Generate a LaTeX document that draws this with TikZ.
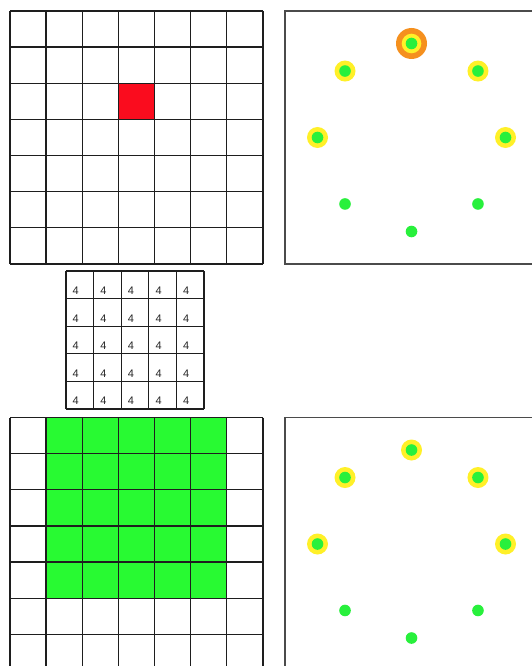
\documentclass[tikz,border=0pt]{standalone}
\usepackage{fontspec}
\setsansfont{Liberation Sans}
\definecolor{cellred}{HTML}{FA0C1E}
\definecolor{cellgreen}{HTML}{28FA32}
\definecolor{dotgreen}{HTML}{28F03C}
\definecolor{ringyellow}{HTML}{FFF028}
\definecolor{ringorange}{HTML}{F5901E}
\definecolor{linegray}{HTML}{1E1E1E}
\tikzset{
  gridline/.style={draw=linegray, line width=1.3pt},
  panelbox/.style={draw=linegray!80, line width=1.1pt},
  dotg/.style={fill=dotgreen},
  ringy/.style={fill=ringyellow},
  ringo/.style={fill=ringorange},
  numlabel/.style={font=\sffamily\fontsize{11}{11}\selectfont, text=black!85, inner sep=0pt, anchor=base west}
}
\begin{document}
\begin{tikzpicture}[x=1pt,y=-1pt]
\useasboundingbox (0,0) rectangle (531,666);
\fill[white] (0,0) rectangle (531,666);
\def\cs{36.14}
% ---- top-left grid ----
\fill[cellred] (10+3*\cs,11+2*\cs) rectangle ++(\cs,\cs);
\foreach \i in {0,...,7}{
  \draw[gridline] (10+\i*\cs,11) -- (10+\i*\cs,264);
  \draw[gridline] (10,11+\i*\cs) -- (263,11+\i*\cs);
}
% ---- bottom-left grid ----
\fill[cellgreen] (10+\cs,417.5) rectangle ++(5*\cs,5*\cs);
\foreach \i in {0,...,7}{
  \draw[gridline] (10+\i*\cs,417.5) -- (10+\i*\cs,670.5);
  \draw[gridline] (10,417.5+\i*\cs) -- (263,417.5+\i*\cs);
}
% ---- small middle grid ----
\def\ss{27.6}
\foreach \i in {0,...,5}{
  \draw[gridline, line width=1.1pt] (66+\i*\ss,271) -- (66+\i*\ss,409);
  \draw[gridline, line width=1.1pt] (66,271+\i*\ss) -- (204,271+\i*\ss);
}
\foreach \r in {0,...,4}{
  \foreach \c in {0,...,4}{
    \node[numlabel] (n\r\c) at (66+\c*\ss+6.5, 271+\r*\ss+23.5) {4};
  }
}
% ---- top-right panel ----
\draw[panelbox] (285,11) rectangle (538,264);
\foreach \a in {0,45,90,270,315}{
  \fill[ringy] ({411.5+94*sin(\a)},{137.5-94*cos(\a)}) circle (10.5);
}
\fill[ringo] (411.5,43.5) circle (15.5);
\fill[ringy] (411.5,43.5) circle (9.8);
\foreach \a in {0,45,...,315}{
  \fill[dotg] ({411.5+94*sin(\a)},{137.5-94*cos(\a)}) circle (5.8);
}
% ---- bottom-right panel ----
\draw[panelbox] (285,417.5) rectangle (538,670.5);
\foreach \a in {0,45,90,270,315}{
  \fill[ringy] ({411.5+94*sin(\a)},{544-94*cos(\a)}) circle (10.5);
}
\foreach \a in {0,45,...,315}{
  \fill[dotg] ({411.5+94*sin(\a)},{544-94*cos(\a)}) circle (5.8);
}
\end{tikzpicture}
\end{document}
